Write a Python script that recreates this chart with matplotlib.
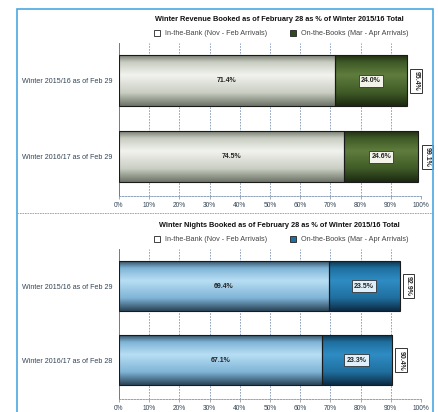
import numpy as np
import matplotlib
matplotlib.use("Agg")
import matplotlib.pyplot as plt
from matplotlib.patches import Rectangle
from matplotlib.lines import Line2D
from matplotlib.colors import LinearSegmentedColormap

plt.rcParams['font.family'] = ['Liberation Sans', 'DejaVu Sans']

# winter booking pace, % of winter 2015/16 total
periods = ["Winter 2016/17 as of Feb 28", "Winter 2015/16 as of Feb 29"]
periods_rev = ["Winter 2016/17 as of Feb 29", "Winter 2015/16 as of Feb 29"]
rev_bank = [74.5, 71.4]
rev_books = [24.6, 24.0]
nights_bank = [67.1, 69.4]
nights_books = [23.3, 23.5]
series_names = ["In-the-Bank (Nov - Feb Arrivals)", "On-the-Books (Mar - Apr Arrivals)"]
ticks = np.arange(0, 101, 10)
tick_labels = ["{}%".format(t) for t in ticks]

W, H = 438, 412
fig = plt.figure(figsize=(W / 100, H / 100), dpi=100)
fig.patch.set_facecolor("white")


def cyl_cmap(edge, mid, light):
    # vertical shading: dark edge -> light band -> mid -> dark edge
    return LinearSegmentedColormap.from_list(
        "c", [(0, edge), (0.25, mid), (0.6, light), (0.85, mid), (1, edge)])


def gradient_bar(ax, y, left, width, h, cmap):
    rect = Rectangle((left, y - h / 2), width, h, facecolor="none",
                     edgecolor="#1a1a1a", lw=0.8, zorder=4)
    ax.add_patch(rect)
    grad = np.linspace(0, 1, 64).reshape(-1, 1)
    im = ax.imshow(grad, cmap=cmap, aspect="auto", zorder=3,
                   extent=(left, left + width, y - h / 2, y + h / 2),
                   origin="lower", interpolation="bicubic")
    im.set_clip_path(rect)


def panel(rect, title, labels, bank, books, c_bank, c_books, box_face, leg_colors):
    ax = fig.add_axes(rect)
    ax.set_xlim(0, 100)
    ax.set_ylim(-0.52, 1.5)
    h = 0.675
    for i in range(len(labels)):
        gradient_bar(ax, i, 0, bank[i], h, c_bank)
        gradient_bar(ax, i, bank[i], books[i], h, c_books)
        ax.text(bank[i] / 2, i, "{:.1f}%".format(bank[i]), ha="center", va="center",
                fontsize=5, fontweight="bold", color="#222222", zorder=6)
        ax.text(bank[i] + books[i] / 2, i, "{:.1f}%".format(books[i]), ha="center",
                va="center", fontsize=5, fontweight="bold", color="#222222", zorder=6,
                bbox=dict(boxstyle="square,pad=0.35", fc=box_face, ec="#333333", lw=0.6))
        total = bank[i] + books[i]
        ax.text(total + 1.8, i, "{:.1f}%".format(total), ha="left", va="center",
                rotation=270, fontsize=5, fontweight="bold", color="#222222", zorder=6,
                clip_on=False,
                bbox=dict(boxstyle="square,pad=0.3", fc="white", ec="#333333", lw=0.7))
    ax.set_yticks(range(len(labels)))
    ax.set_yticklabels(labels, fontsize=5.1, color="#334455")
    ax.set_xticks(ticks)
    ax.set_xticklabels(tick_labels, fontsize=4.8, color="#334455")
    ax.tick_params(axis="both", length=2, width=0.5, color="#888888", pad=2)
    ax.tick_params(axis="y", length=0, pad=5)
    for t in ticks[1:]:
        ax.axvline(t, color="#7f95b5", lw=0.6, ls=(0, (2, 1.5)), zorder=1)
    for s in ["top", "right"]:
        ax.spines[s].set_visible(False)
    ax.spines["left"].set_color("#777777")
    ax.spines["left"].set_linewidth(0.7)
    ax.spines["bottom"].set_color("#7f95b5")
    ax.spines["bottom"].set_linestyle((0, (2, 1.5)))
    ax.spines["bottom"].set_linewidth(0.6)
    ax.set_title(title, fontsize=5.3, fontweight="bold", color="#111111", pad=16, x=0.53)
    handles = [Line2D([], [], marker="s", ls="", ms=4, mfc=c, mec="#222222", mew=0.6)
               for c in leg_colors]
    ax.legend(handles, series_names, loc="lower center", bbox_to_anchor=(0.53, 1.02),
              ncol=2, frameon=False, fontsize=5.2, handletextpad=0.2, columnspacing=2.5,
              labelcolor="#444444", borderaxespad=0)
    return ax


green_bank = cyl_cmap("#6e7468", "#c9cdc2", "#f2f3ee")
green_books = cyl_cmap("#1c2a12", "#3f5a26", "#5f7d3d")
blue_bank = cyl_cmap("#2b4558", "#7fb4d6", "#b8def4")
blue_books = cyl_cmap("#0c2c44", "#1f6f9f", "#2f8cc4")

panel([119 / W, 1 - 196 / H, 302 / W, 153 / H],
      "Winter Revenue Booked as of February 28 as % of Winter 2015/16 Total",
      periods_rev, rev_bank, rev_books, green_bank, green_books, "#f3f3ea",
      ["#ffffff", "#2f4a1e"])
panel([119 / W, 1 - 399 / H, 302 / W, 150 / H],
      "Winter Nights Booked as of February 28 as % of Winter 2015/16 Total",
      periods, nights_bank, nights_books, blue_bank, blue_books, "#dff0fa",
      ["#ffffff", "#1f6f9f"])

# outer frame and the dashed divider between the two charts
fig.add_artist(Rectangle((17 / W, -0.05), 416 / W, 1.05 - 9 / H, transform=fig.transFigure,
                         fill=False, ec="#4aa8e0", lw=1.2))
fig.add_artist(Line2D([17 / W, 433 / W], [1 - 213 / H] * 2, transform=fig.transFigure,
                      color="#999999", lw=0.6, ls=(0, (2, 1))))

fig.savefig("out.png", dpi=100, facecolor="white")
